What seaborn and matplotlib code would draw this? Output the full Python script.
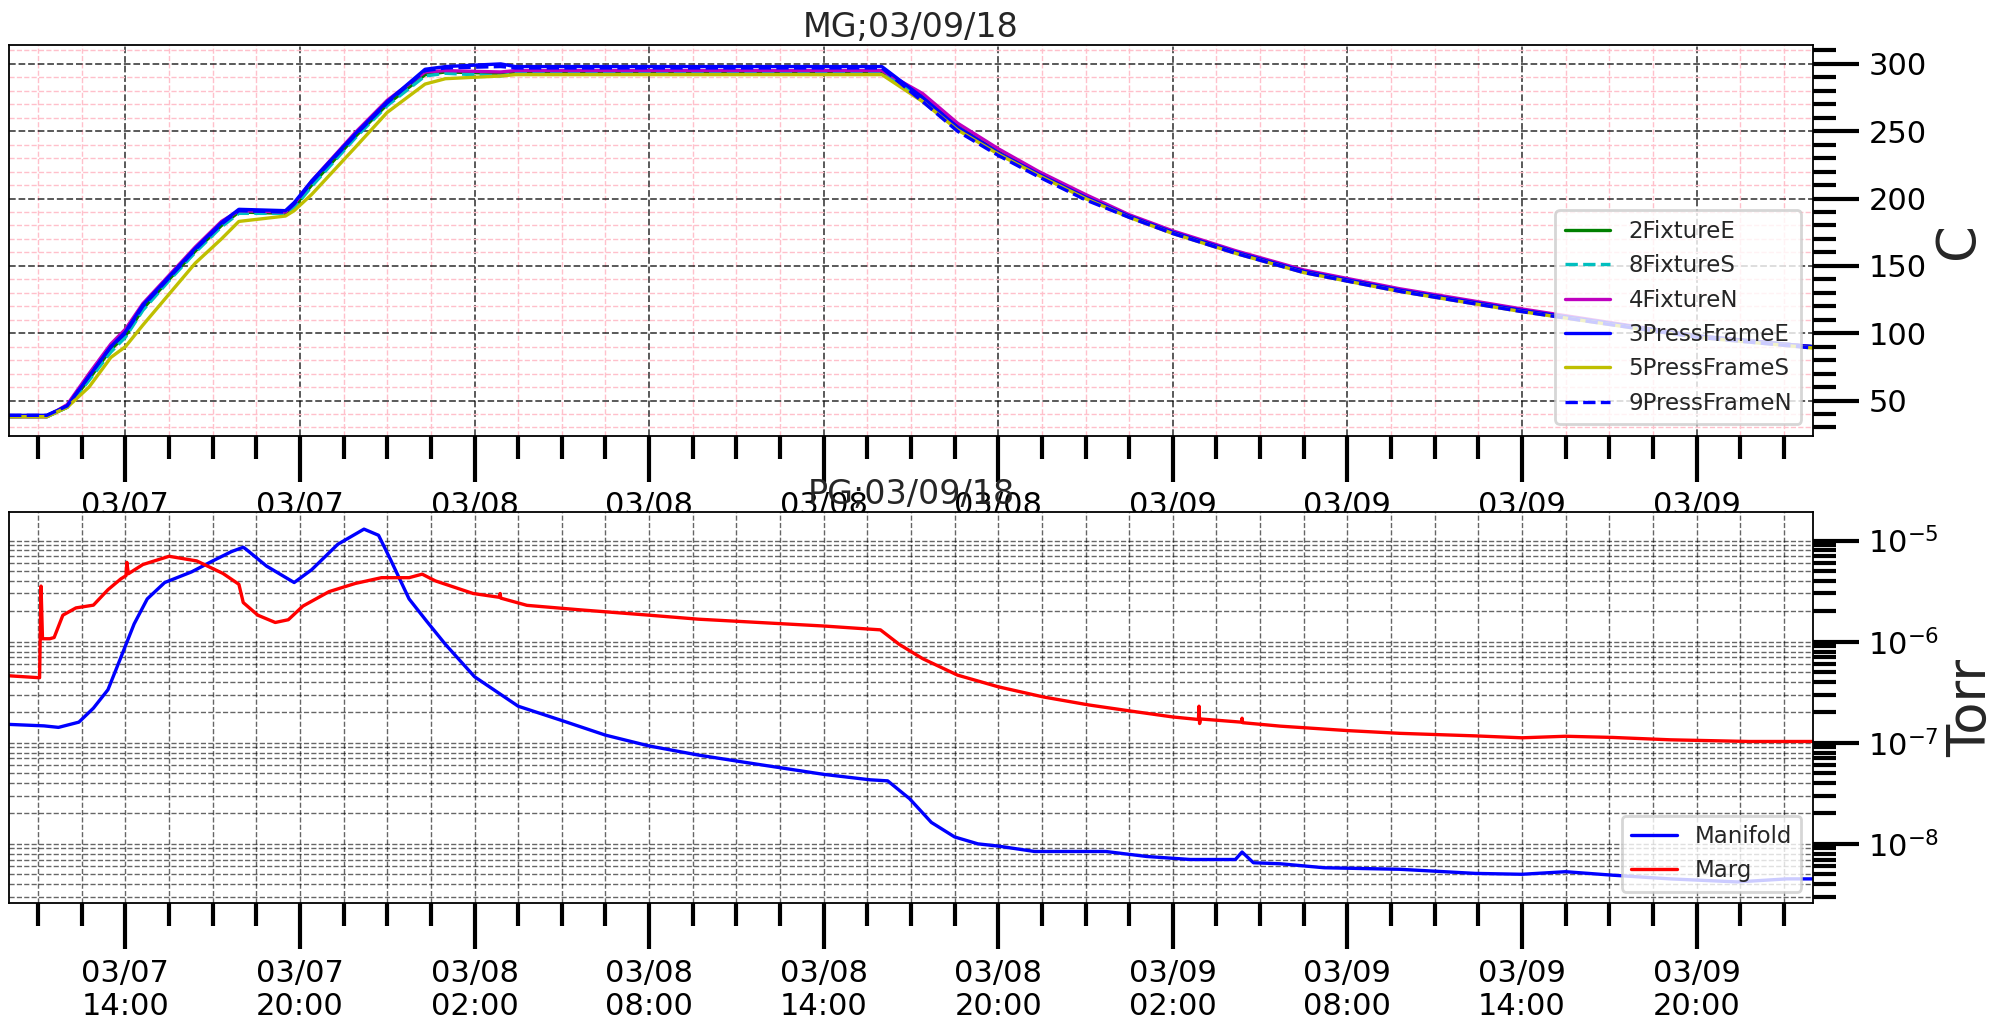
import seaborn as sns
import matplotlib.pyplot as plt
import matplotlib.dates as mdates
import matplotlib.ticker as mticker
import pandas as pd

# hours after 2018-03-07 00:00
t_hours = [10.0, 11.3, 12.0, 12.75, 13.5, 14.0, 14.6, 15.5, 16.4, 17.3, 17.9, 19.5,
           19.8, 20.4, 21.9, 23.0, 24.3, 25.0, 26.9, 27.4, 40.0, 41.4, 42.6, 44.0,
           45.4, 47.0, 48.5, 50.0, 52.2, 54.5, 57.8, 62.0, 68.0, 72.0]

fixture_e = [38, 38, 45, 66, 88, 98, 118, 140, 161, 180, 190, 189, 194, 210, 246, 270, 292,
             294, 293, 294, 294, 276, 254, 235, 219, 202, 187, 175, 160, 146, 132, 117, 98, 90]
fixture_s = [38, 38, 45, 65, 86, 97, 117, 139, 160, 179, 189, 189, 193, 209, 245, 269, 291,
             293, 291, 293, 293, 275, 253, 234, 218, 201, 187, 175, 160, 146, 132, 117, 98, 90]
fixture_n = [38, 38, 47, 70, 92, 103, 122, 143, 164, 183, 191, 190, 196, 213, 249, 273, 294,
             295, 294, 295, 295, 278, 256, 237, 220, 203, 188, 176, 161, 147, 133, 118, 98, 90]
pframe_e = [39, 39, 46, 68, 90, 101, 121, 142, 163, 182, 192, 191, 197, 213, 248, 272, 296,
            298, 300, 298, 298, 275, 253, 234, 218, 201, 187, 175, 160, 146, 132, 117, 98, 90]
pframe_s = [38, 38, 45, 60, 82, 90, 106, 129, 152, 170, 183, 187, 191, 203, 238, 264, 285,
            289, 291, 292, 292, 272, 251, 233, 217, 200, 186, 174, 159, 145, 131, 116, 97, 89]
pframe_n = [39, 39, 46, 68, 90, 100, 120, 141, 162, 181, 191, 190, 196, 212, 247, 271, 295,
            297, 298, 297, 297, 272, 250, 232, 216, 199, 186, 174, 159, 145, 131, 116, 97, 89]

man_hours = [10.0, 11.2, 11.7, 12.4, 12.9, 13.4, 13.8, 14.3, 14.75, 15.35, 16.27, 17.0, 17.65,
             18.05, 18.15, 18.85, 19.8, 20.4, 21.3, 22.2, 22.7, 23.1, 23.75, 24.35, 25.0, 26.0,
             27.5, 29.0, 30.5, 32.0, 33.7, 35.3, 38.0, 39.6, 40.2, 40.95, 41.7, 42.5, 43.3,
             44.0, 45.25, 47.7, 49.1, 50.6, 52.15, 52.38, 52.77, 53.7, 55.2, 57.8, 60.4, 62.0,
             63.5, 65.1, 67.1, 69.4, 71.1, 72.0]
manifold = [1.52e-7, 1.47e-7, 1.42e-7, 1.6e-7, 2.2e-7, 3.35e-7, 6.5e-7, 1.5e-6, 2.65e-6,
            3.85e-6, 4.9e-6, 6.3e-6, 7.8e-6, 8.6e-6, 8.2e-6, 5.6e-6, 3.85e-6, 5.15e-6, 9.2e-6,
            1.3e-5, 1.13e-5, 6.6e-6, 2.65e-6, 1.6e-6, 9.4e-7, 4.5e-7, 2.3e-7, 1.66e-7, 1.19e-7,
            9.3e-8, 7.55e-8, 6.4e-8, 4.87e-8, 4.3e-8, 4.2e-8, 2.8e-8, 1.63e-8, 1.17e-8, 1.0e-8,
            9.5e-9, 8.4e-9, 8.4e-9, 7.5e-9, 7.0e-9, 7.0e-9, 8.3e-9, 6.5e-9, 6.35e-9, 5.8e-9,
            5.6e-9, 5.1e-9, 5.0e-9, 5.3e-9, 4.9e-9, 4.5e-9, 4.2e-9, 4.5e-9, 4.5e-9]

marg_hours = [10.0, 11.05, 11.1, 11.15, 11.4, 11.55, 11.85, 12.3, 12.9, 13.4, 13.85, 14.02,
              14.05, 14.1, 14.6, 15.5, 16.45, 17.35, 17.9, 18.05, 18.55, 19.15, 19.6, 20.1,
              21.0, 21.9, 22.8, 23.75, 24.2, 24.65, 25.95, 26.85, 26.88, 26.9, 27.8, 29.6,
              32.0, 33.7, 38.0, 39.95, 40.6, 41.4, 42.6, 44.0, 45.55, 47.1, 48.5, 50.0, 50.88,
              50.9, 50.92, 50.95, 52.35, 52.38, 52.4, 53.7, 56.0, 57.8, 60.4, 62.0, 63.5,
              65.1, 67.1, 69.8, 72.0]
marg = [4.6e-7, 4.4e-7, 3.55e-6, 1.07e-6, 1.07e-6, 1.1e-6, 1.83e-6, 2.16e-6, 2.3e-6, 3.27e-6,
        4.2e-6, 4.5e-6, 6.1e-6, 4.7e-6, 5.8e-6, 7.0e-6, 6.3e-6, 4.74e-6, 3.7e-6, 2.44e-6,
        1.83e-6, 1.55e-6, 1.65e-6, 2.25e-6, 3.13e-6, 3.77e-6, 4.3e-6, 4.3e-6, 4.66e-6, 4.0e-6,
        3.0e-6, 2.75e-6, 3.0e-6, 2.7e-6, 2.29e-6, 2.07e-6, 1.83e-6, 1.67e-6, 1.43e-6, 1.31e-6,
        9.4e-7, 6.8e-7, 4.67e-7, 3.58e-7, 2.84e-7, 2.37e-7, 2.07e-7, 1.8e-7, 1.7e-7, 2.3e-7,
        1.55e-7, 1.72e-7, 1.6e-7, 1.75e-7, 1.58e-7, 1.46e-7, 1.32e-7, 1.24e-7, 1.17e-7,
        1.12e-7, 1.16e-7, 1.13e-7, 1.07e-7, 1.03e-7, 1.03e-7]

base = pd.Timestamp('2018-03-07')


def to_dates(hours):
    return base + pd.to_timedelta(hours, unit='h')


# plain matplotlib colour letters, not seaborn's remapped ones
GREEN, CYAN, MAGENTA = (0, 0.5, 0), (0, 0.75, 0.75), (0.75, 0, 0.75)
BLUE, YELLOW, RED = (0, 0, 1), (0.75, 0.75, 0), (1, 0, 0)

sns.set_theme(context='poster', style='ticks', color_codes=False,
              rc={'axes.edgecolor': 'black', 'axes.linewidth': 1.3,
                  'xtick.color': 'black', 'ytick.color': 'black'})
plt.rcParams['font.family'] = ['DejaVu Sans']

fig, (ax1, ax2) = plt.subplots(2, 1, figsize=(20.07, 10.21), dpi=100)
fig.subplots_adjust(left=0.0045, right=0.9033, top=0.9559, bottom=0.1156, hspace=0.197)

td = to_dates(t_hours)
temps = [('2FixtureE', fixture_e, GREEN, '-'), ('8FixtureS', fixture_s, CYAN, '--'),
         ('4FixtureN', fixture_n, MAGENTA, '-'), ('3PressFrameE', pframe_e, BLUE, '-'),
         ('5PressFrameS', pframe_s, YELLOW, '-'), ('9PressFrameN', pframe_n, BLUE, '--')]
for name, vals, c, ls in temps:
    sns.lineplot(x=td, y=vals, ax=ax1, color=c, linestyle=ls, linewidth=2.4, label=name)

ax2.set_yscale('log')
sns.lineplot(x=to_dates(man_hours), y=manifold, ax=ax2, color=BLUE, linewidth=2.4, label='Manifold')
sns.lineplot(x=to_dates(marg_hours), y=marg, ax=ax2, color=RED, linewidth=2.4, label='Marg')

xmin, xmax = to_dates([10.0, 72.0])
for ax in (ax1, ax2):
    ax.set_xlim(xmin, xmax)
    ax.xaxis.set_major_locator(mdates.HourLocator(byhour=[2, 8, 14, 20]))
    ax.xaxis.set_major_formatter(mdates.DateFormatter('%m/%d\n%H:%M'))
    ax.xaxis.set_minor_locator(mticker.AutoMinorLocator(4))
    ax.yaxis.tick_right()
    ax.yaxis.set_label_position('right')
    ax.tick_params(which='major', length=33, width=3, labelsize=22, pad=7)
    ax.tick_params(which='minor', length=16.5, width=3)
    ax.set_xlabel('')
    ax.legend(loc='lower right', fontsize=16.5)

ax1.set_ylim(24, 314)
ax1.yaxis.set_major_locator(mticker.MultipleLocator(50))
ax1.yaxis.set_minor_locator(mticker.MultipleLocator(10))
ax1.grid(which='major', color='k', linestyle='--', linewidth=1.3, alpha=0.7)
ax1.grid(which='minor', color='pink', linestyle='--', linewidth=1.0)
ax1.set_ylabel('C', fontsize=38)
ax1.set_title('MG;03/09/18', fontsize=24)

ax2.set_ylim(2.6e-9, 1.9e-5)
ax2.grid(which='both', color='k', linestyle='--', linewidth=1.0, alpha=0.6)
ax2.set_ylabel('Torr', fontsize=38)
ax2.set_title('PG;03/09/18', fontsize=24)

fig.savefig('out.png', dpi=100)
